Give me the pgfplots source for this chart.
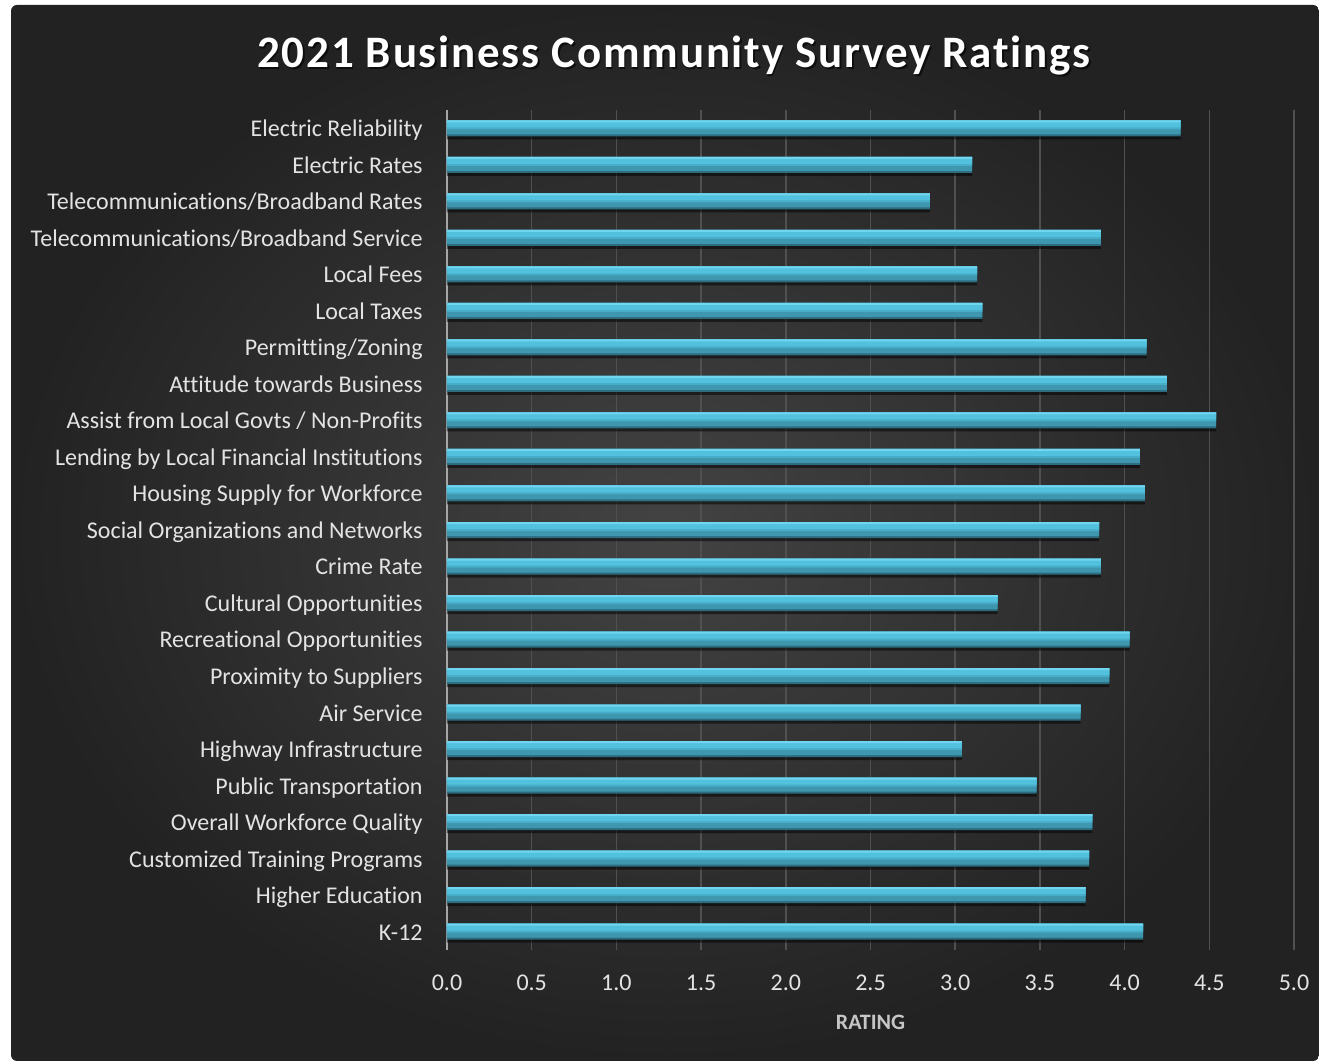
\documentclass[border=0pt]{standalone}
\usepackage{fontspec}
\setmainfont{Carlito}[Ligatures={NoCommon}]
\usepackage{pgfplots}
\usepackage{pgfplotstable}
\pgfplotsset{compat=1.18}

\definecolor{bgin}{HTML}{434343}
\definecolor{bgout}{HTML}{222222}
\definecolor{gridc}{HTML}{505050}
\definecolor{txtc}{HTML}{E3E3E3}
\definecolor{barA}{HTML}{72D5EF}
\definecolor{barB}{HTML}{52C1DE}
\definecolor{barC}{HTML}{48ADC8}
\definecolor{barD}{HTML}{3E97AE}
\definecolor{barE}{HTML}{2C6D80}

\pgfplotstableread[col sep=comma]{
idx,value,label
0,4.33,Electric Reliability
1,3.10,Electric Rates
2,2.85,Telecommunications/Broadband Rates
3,3.86,Telecommunications/Broadband Service
4,3.13,Local Fees
5,3.16,Local Taxes
6,4.13,Permitting/Zoning
7,4.25,Attitude towards Business
8,4.54,Assist from Local Govts / Non-Profits
9,4.09,Lending by Local Financial Institutions
10,4.12,Housing Supply for Workforce
11,3.85,Social Organizations and Networks
12,3.86,Crime Rate
13,3.25,Cultural Opportunities
14,4.03,Recreational Opportunities
15,3.91,Proximity to Suppliers
16,3.74,Air Service
17,3.04,Highway Infrastructure
18,3.48,Public Transportation
19,3.81,Overall Workforce Quality
20,3.79,Customized Training Programs
21,3.77,Higher Education
22,4.11,K-12
}\ratings

\begin{document}
\begin{tikzpicture}
% page and dark chart area (1px = 0.5pt)
\fill[white] (0,0) rectangle (659.5pt,530.5pt);
\shade[inner color=bgin, outer color=bgout, rounded corners=3pt] (5.5pt,0) rectangle (659.5pt,528pt);

\node[text=black, opacity=0.6, font=\bfseries\fontsize{22.5}{26}\selectfont, xshift=0.8pt, yshift=-0.8pt]
  at (337pt,502.5pt) {\addfontfeature{LetterSpace=4}2021 Business Community Survey Ratings};
\node[text=white, font=\bfseries\fontsize{22.5}{26}\selectfont]
  at (337pt,502.5pt) {\addfontfeature{LetterSpace=4}2021 Business Community Survey Ratings};

\begin{axis}[
    at={(223.5pt,55.5pt)}, anchor=south west,
    scale only axis,
    width=423.5pt, height=420pt,
    xmin=0, xmax=5,
    ymin=-0.5, ymax=22.5,
    y dir=reverse,
    xtick={0,0.5,...,5},
    ytick=data,
    yticklabels from table={\ratings}{label},
    xticklabel={\pgfmathprintnumber[fixed,fixed zerofill,precision=1]{\tick}},
    /pgf/number format/assume math mode=true,
    major tick length=0pt,
    axis x line*=bottom,
    axis y line*=left,
    x axis line style={draw=none},
    y axis line style={draw=gray!70, line width=1pt, -},
    xmajorgrids=true,
    major grid style={draw=gridc, line width=0.8pt},
    ticklabel style={text=txtc, font=\fontsize{12}{14}\selectfont},
    yticklabel style={inner sep=0pt, xshift=-12pt, yshift=-1pt, text height=0.64em, text depth=0pt},
    xticklabel style={inner sep=0pt, anchor=north, yshift=-12.5pt},
    xlabel={RATING},
    xlabel style={text=gray!45!white, font=\bfseries\fontsize{11}{13}\selectfont, at={(axis description cs:0.5,0)}, anchor=north, yshift=-29pt},
    clip=false,
]
% drop shadow
\addplot[xbar, bar width=8pt, bar shift=-1.5pt, draw=none, fill=black, fill opacity=0.5]
    table[x=value, y=idx] {\ratings};
% bar body, built from bands (dark bottom edge to light top edge)
\addplot[xbar, bar width=8pt, draw=none, fill=barE]
    table[x=value, y=idx] {\ratings};
\addplot[xbar, bar width=7pt, bar shift=0.5pt, draw=none, fill=barD]
    table[x=value, y=idx] {\ratings};
\addplot[xbar, bar width=4.5pt, bar shift=1.75pt, draw=none, fill=barC]
    table[x=value, y=idx] {\ratings};
\addplot[xbar, bar width=3.5pt, bar shift=2.25pt, draw=none, fill=barB]
    table[x=value, y=idx] {\ratings};
\addplot[xbar, bar width=1pt, bar shift=3.5pt, draw=none, fill=barA]
    table[x=value, y=idx] {\ratings};
\end{axis}
\end{tikzpicture}
\end{document}
